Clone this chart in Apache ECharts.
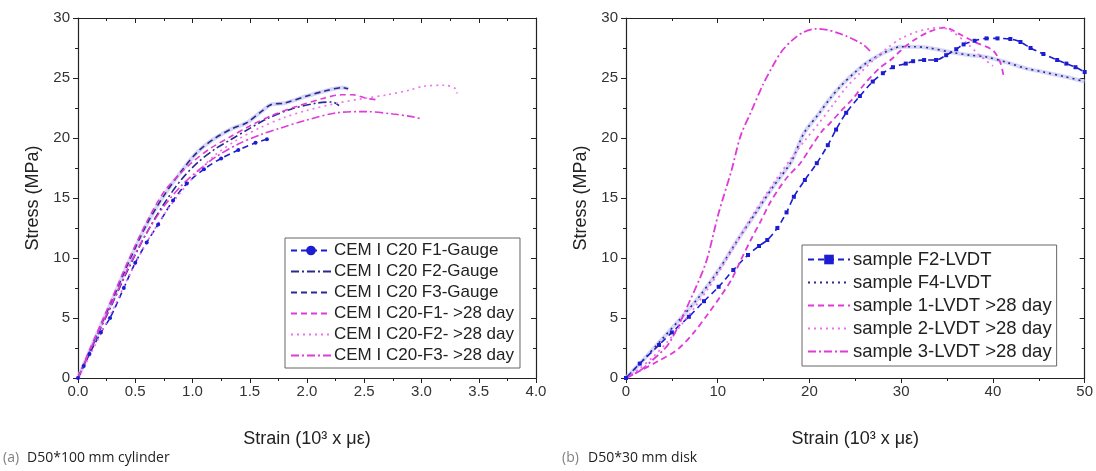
<!DOCTYPE html>
<html><head><meta charset="utf-8">
<script src="https://cdn.jsdelivr.net/npm/echarts@6/dist/echarts.min.js"></script>
<style>html,body{margin:0;padding:0;background:#fff}#c{width:1096px;height:471px}</style>
</head><body><div id="c"></div>
<script>
// ---------- Data: panel (a) D50*100 mm cylinder ----------
const f1GaugeStrain = [0,0.05,0.1,0.2,0.28,0.4,0.5,0.6,0.7,0.83,0.95,1.1,1.25,1.4,1.55,1.65];
const f1GaugeStress = [0,1.0,2.0,3.8,5.0,7.5,9.6,11.3,12.8,14.8,16.2,17.4,18.3,19.0,19.6,19.9];
const f2GaugeStrain = [0,0.1,0.2,0.3,0.45,0.6,0.75,0.9,1.05,1.2,1.34,1.5,1.65,1.86,2.08,2.22,2.28];
const f2GaugeStress = [0,2.1,4.2,6.2,9.3,12.1,14.5,16.5,18.0,19.1,19.9,20.8,21.6,22.4,22.9,23.0,22.7];
const f3GaugeStrain = [0,0.1,0.2,0.3,0.45,0.6,0.75,0.9,1.05,1.2,1.35,1.47,1.6,1.69,1.8,2.0,2.15,2.31,2.36];
const f3GaugeStress = [0,2.2,4.4,6.5,9.8,12.8,15.2,17.2,18.9,20.0,20.8,21.25,22.2,22.8,22.9,23.5,23.9,24.2,24.1];
const f1DayStrain = [0,0.1,0.2,0.3,0.45,0.6,0.75,0.9,1.0,1.15,1.33,1.5,1.7,1.9,2.14,2.3,2.4,2.52,2.6];
const f1DayStress = [0,2.3,4.5,6.7,10.0,13.0,15.5,17.1,18.0,19.1,20.1,21.0,21.9,22.6,23.3,23.6,23.6,23.3,23.2];
const f2DayStrain = [0,0.1,0.2,0.3,0.45,0.6,0.75,0.9,1.05,1.2,1.4,1.6,1.8,2.0,2.26,2.5,2.7,2.9,3.01,3.2,3.3,3.31];
const f2DayStress = [0,1.8,3.7,5.6,8.6,11.3,13.6,15.5,17.2,18.6,19.9,20.9,21.7,22.3,22.9,23.3,23.6,24.0,24.3,24.4,24.1,23.7];
const f3DayStrain = [0,0.1,0.2,0.3,0.45,0.6,0.75,0.9,1.05,1.2,1.4,1.6,1.76,2.0,2.26,2.52,2.75,2.9,3.0];
const f3DayStress = [0,2.2,4.3,6.3,9.4,12.1,14.3,16.0,17.3,18.4,19.5,20.3,20.8,21.5,22.1,22.2,22.0,21.8,21.6];

// ---------- Data: panel (b) D50*30 mm disk ----------
const f2LvdtStrain = [0,1.5,3.6,5,6.85,8.5,10.1,11.7,13.3,14.5,15.4,16.5,17.5,18.3,19.5,20.8,22,22.9,24,25.5,26.9,28,29.1,30.5,31.3,32.5,33.8,34.9,36,36.8,38,39.3,40.5,41.9,43,44.1,45.5,47,48,49,50];
const f2LvdtStress = [0,1.2,2.75,3.8,5.1,6.4,7.6,9.0,10.25,11.0,11.5,12.5,13.8,15.1,16.5,17.9,19.4,20.7,22.1,23.5,24.7,25.4,25.9,26.2,26.4,26.5,26.5,26.9,27.4,27.8,28.1,28.3,28.3,28.25,28.0,27.5,27.0,26.5,26.2,25.9,25.5];
const f4LvdtStrain = [0,2,4,6,8,10.1,12,14,16,18,19.4,21,22.2,23.5,25,26.3,27.6,29,29.9,31.5,33.1,35.8,37.5,39.3,41.5,43.6,45.5,47.9,50];
const f4LvdtStress = [0,1.6,3.3,5.0,6.8,9.0,11.3,13.6,15.9,18.0,20.4,22.0,23.25,24.4,25.5,26.3,26.9,27.4,27.6,27.6,27.5,27.1,26.9,26.75,26.3,25.8,25.5,25.1,24.7];
const s1Strain = [0,1.8,3.5,5.5,7.3,9,10.3,11.5,12.5,13.6,14.7,15.7,16.6,17.6,19,20.2,21.5,22.2,23.5,24.7,26,27.6,29,29.9,30.4,31.5,32.9,34.7,36.5,38,40,40.8,41.2];
const s1Stress = [0,0.7,1.4,2.3,3.7,5.4,6.8,8.2,9.8,11.5,13.1,14.6,15.7,16.75,17.9,19.3,20.7,21.2,22.3,23.25,24.5,25.8,26.6,27.25,27.6,28.2,28.8,29.2,28.6,28.0,27.3,26.3,25.0];
const s2Strain = [0,1.5,3,4.5,6,7.5,9,10.5,12,13.5,15,16.5,18,19.5,21,22.5,24,25.5,27,28.5,30,31.5,33,34.3,35.5,37,38.7,40];
const s2Stress = [0,0.8,1.8,3.0,4.4,5.9,7.5,9.3,11.2,13.2,15.0,16.7,18.3,19.8,21.2,22.7,24.2,25.4,26.5,27.5,28.3,28.8,29.1,29.2,28.9,28.0,26.8,26.0];
const s3Strain = [0,1.5,2.9,4.7,6.85,8.7,10.1,11.5,12.5,13.7,14.9,16,17,18.2,19.3,20.7,22,22.9,24,25.1,26,26.6];
const s3Stress = [0,0.6,1.5,2.9,6.25,9.6,13.75,17.3,20.2,22.3,24.4,26.0,27.25,28.2,28.8,29.1,29.0,28.8,28.5,28.1,27.7,27.25];

// ---------- Axis ranges / labels ----------
const leftNames = ['CEM I C20 F1-Gauge','CEM I C20 F2-Gauge','CEM I C20 F3-Gauge','CEM I C20-F1- >28 day','CEM I C20-F2- >28 day','CEM I C20-F3- >28 day'];
const rightNames = ['sample F2-LVDT','sample F4-LVDT','sample 1-LVDT >28 day','sample 2-LVDT >28 day','sample 3-LVDT >28 day'];
const markerNames = ['CEM I C20 F1-Gauge','sample F2-LVDT'];
const yTitle = 'Stress (MPa)';
const xTitle = 'Strain (10³ x με)';
const captionA = ['(a)', 'D50*100 mm cylinder'];
const captionB = ['(b)', 'D50*30 mm disk'];

const pts = (xs, ys) => xs.map((x, i) => [x, ys[i]]);

const FONT = 'Liberation Sans, Arial, sans-serif';
const axisCol = '#222';
const NAVY = '#2a2a8e', BLUE = '#1c1cd0', LAV = '#c4c4f2', MAG = '#e03ad8', PINK = '#f070ee';
const DASH = [6,4], DOT = [2,4], DASHDOT = [8,3,2,3];

function baseX(grid, min, max, interval, top, labelFmt) {
  return {
    type: 'value', gridIndex: grid, min, max, interval, position: top ? 'top' : 'bottom',
    axisLine: { show: true, onZero: false, lineStyle: { color: axisCol, width: 1.2 } },
    axisTick: { show: true, inside: top, length: 5, lineStyle: { color: axisCol } },
    minorTick: { show: true, splitNumber: 2, length: 3, lineStyle: { color: axisCol } },
    splitLine: { show: false },
    axisLabel: { show: !top, color: '#333', fontSize: 15, fontFamily: FONT, margin: 6, formatter: labelFmt, showMaxLabel: true, hideOverlap: false },
    name: top ? '' : xTitle, nameLocation: 'middle', nameGap: 52,
    nameTextStyle: { fontSize: 18, color: '#222', fontFamily: FONT }
  };
}
function baseY(grid, right) {
  return {
    type: 'value', gridIndex: grid, min: 0, max: 30, interval: 5, position: right ? 'right' : 'left',
    axisLine: { show: true, onZero: false, lineStyle: { color: axisCol, width: 1.2 } },
    axisTick: { show: true, inside: right, length: 5, lineStyle: { color: axisCol } },
    minorTick: { show: true, splitNumber: 2, length: 3, lineStyle: { color: axisCol } },
    splitLine: { show: false },
    axisLabel: { show: !right, color: '#333', fontSize: 15, fontFamily: FONT, margin: 8 },
    name: right ? '' : yTitle, nameLocation: 'middle', nameGap: 36, nameRotate: 90,
    nameTextStyle: { fontSize: 18, color: '#222', fontFamily: FONT }
  };
}

function line(name, xi, yi, data, color, type, width, sym, symSize) {
  return {
    name, type: 'line', xAxisIndex: xi, yAxisIndex: yi, data, smooth: 0.3,
    symbol: sym || 'none', symbolSize: symSize || 0, showSymbol: !!sym,
    itemStyle: { color },
    lineStyle: { color, type, width: width || 1.6 },
    animation: false, z: 3
  };
}
function halo(xi, yi, data) {
  return {
    type: 'line', xAxisIndex: xi, yAxisIndex: yi, data, smooth: 0.3, symbol: 'none',
    lineStyle: { color: LAV, width: 4, opacity: 0.7 }, silent: true, animation: false, z: 2
  };
}
const legendItems = names => names.map(n => markerNames.includes(n) ? { name: n } : { name: n, itemStyle: { opacity: 0 } });

const capStyle = (text, fill) => ({ text, fontSize: 14, fill, fontFamily: 'Open Sans, Noto Sans, sans-serif' });

const chart = echarts.init(document.getElementById('c'), null, { renderer: 'canvas' });
chart.setOption({
  backgroundColor: '#fff',
  animation: false,
  grid: [
    { left: 78, right: 560, top: 18, bottom: 93 },
    { left: 626, right: 3, top: 18, bottom: 93 }
  ],
  xAxis: [
    baseX(0, 0, 4, 0.5, false, v => v.toFixed(1)),
    baseX(0, 0, 4, 0.5, true),
    baseX(1, 0, 50, 10, false, v => String(v)),
    baseX(1, 0, 50, 10, true)
  ],
  yAxis: [baseY(0, false), baseY(0, true), baseY(1, false), baseY(1, true)],
  legend: [
    {
      data: legendItems(leftNames), orient: 'vertical', left: 285, top: 238,
      itemWidth: 40, itemHeight: 12, itemGap: 4,
      padding: [4, 6, 4, 5], borderColor: '#666', borderWidth: 1, backgroundColor: '#fff',
      textStyle: { fontSize: 17, color: '#222', fontFamily: FONT, padding: [0, 0, 0, -2] }
    },
    {
      data: legendItems(rightNames), orient: 'vertical', left: 802, top: 245,
      itemWidth: 42, itemHeight: 12, itemGap: 4,
      padding: [5, 5, 5, 5], borderColor: '#666', borderWidth: 1, backgroundColor: '#fff',
      textStyle: { fontSize: 18.5, color: '#222', fontFamily: FONT, padding: [0, 0, 0, -2] }
    }
  ],
  series: [
    halo(0, 0, pts(f3GaugeStrain, f3GaugeStress)),
    halo(2, 2, pts(f4LvdtStrain, f4LvdtStress)),
    line(leftNames[0], 0, 0, pts(f1GaugeStrain, f1GaugeStress), BLUE, DASH, 1.6, 'circle', 4),
    line(leftNames[1], 0, 0, pts(f2GaugeStrain, f2GaugeStress), NAVY, DASHDOT, 1.6),
    line(leftNames[2], 0, 0, pts(f3GaugeStrain, f3GaugeStress), NAVY, DASH, 1.6),
    line(leftNames[3], 0, 0, pts(f1DayStrain, f1DayStress), MAG, DASH, 1.6),
    line(leftNames[4], 0, 0, pts(f2DayStrain, f2DayStress), PINK, DOT, 1.6),
    line(leftNames[5], 0, 0, pts(f3DayStrain, f3DayStress), MAG, DASHDOT, 1.6),
    line(rightNames[0], 2, 2, pts(f2LvdtStrain, f2LvdtStress), BLUE, DASH, 1.6, 'rect', 4),
    line(rightNames[1], 2, 2, pts(f4LvdtStrain, f4LvdtStress), NAVY, DOT, 1.6),
    line(rightNames[2], 2, 2, pts(s1Strain, s1Stress), MAG, DASH, 1.8),
    line(rightNames[3], 2, 2, pts(s2Strain, s2Stress), PINK, DOT, 1.8),
    line(rightNames[4], 2, 2, pts(s3Strain, s3Stress), MAG, DASHDOT, 1.8)
  ],
  graphic: [
    { type: 'text', left: 3, top: 451, style: capStyle(captionA[0], '#808080') },
    { type: 'text', left: 27, top: 451, style: capStyle(captionA[1], '#222') },
    { type: 'text', left: 562, top: 451, style: capStyle(captionB[0], '#808080') },
    { type: 'text', left: 588, top: 451, style: capStyle(captionB[1], '#222') }
  ]
});
</script></body></html>
